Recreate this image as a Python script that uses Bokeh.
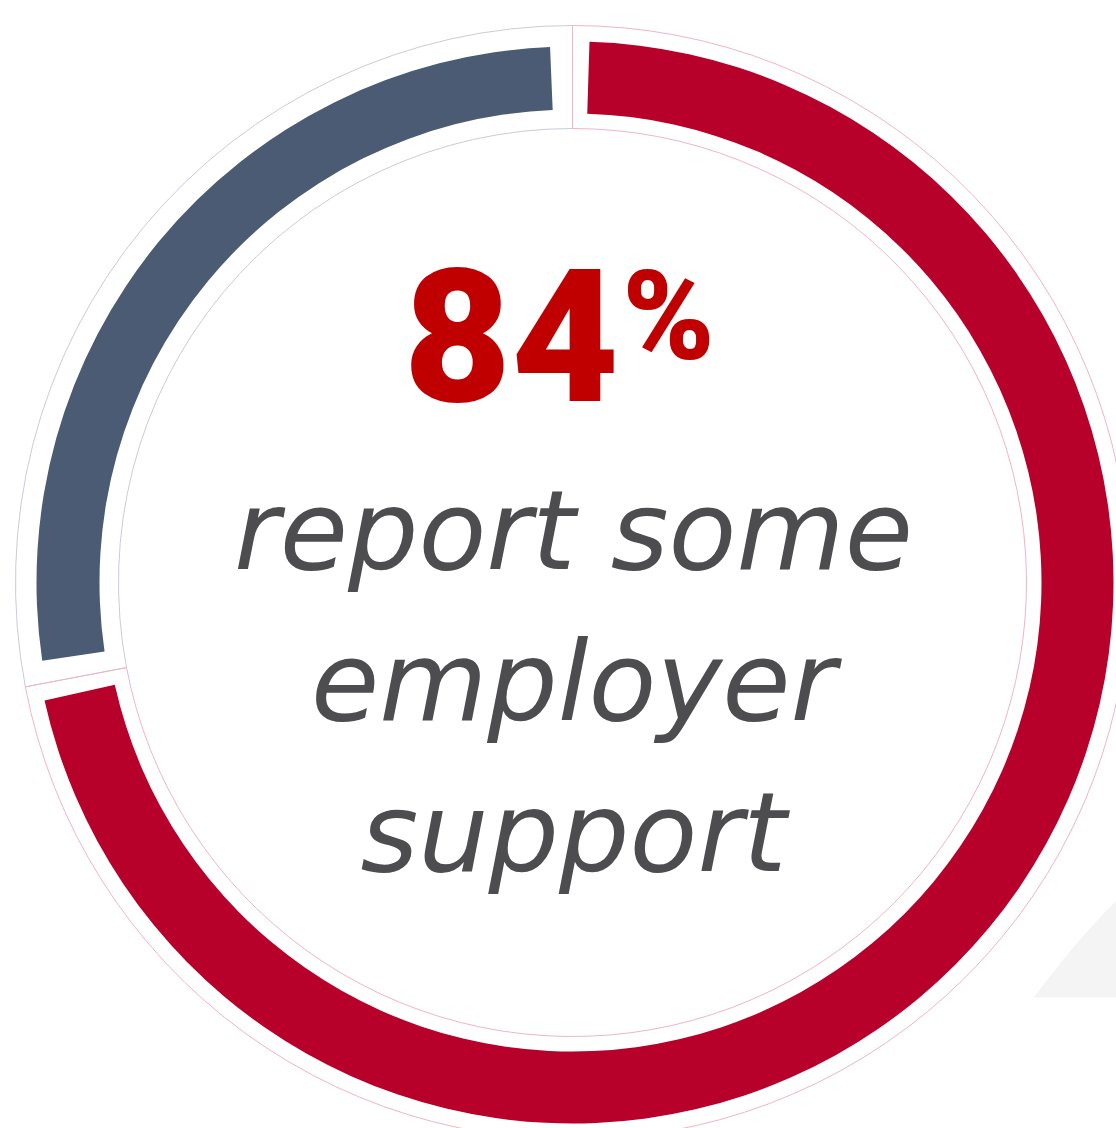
import numpy as np
from bokeh.plotting import figure
from bokeh.models import Range1d, ColumnDataSource
from bokeh.embed import file_html
from bokeh.resources import INLINE
from bokeh.core.properties import value

# ---- data ----
categories = ["report some employer support", "no employer support"]
shares = [72, 28]                     # percent of the ring
headline_value = "84"
headline_unit = "%"
subtitle_lines = ["report some", "employer", "support"]

# ---- styles ----
band_colors = ["#b7002a", "#4b5b73"]
ring_colors = ["#f0b4c4", "#c8ccd6"]
band_inner = [469, 473]
band_outer = [541, 536]
band_pad = [1.8, 2.4]                 # degrees of gap at each end of a band
RING_IN, RING_OUT = 454, 557
W, H = 1116, 1128
CX, CY = 572, H - 582

p = figure(width=W, height=H, x_range=Range1d(0, W), y_range=Range1d(0, H),
           output_backend="svg", toolbar_location=None, min_border=0,
           x_axis_type=None, y_axis_type=None)
p.grid.visible = False
p.outline_line_color = None
p.background_fill_color = "white"
p.border_fill_color = "white"

# decorative light shape bottom-right (drawn first; rings paint over)
p.circle(x=[1732], y=[H - 1507], radius=865, fill_color="#f4f4f4", line_color=None)
p.quad(left=[780], right=[W + 20], bottom=[-20], top=[H - 997], fill_color="white", line_color=None)

# angles (clockwise from 12 o'clock)
cum = np.cumsum([0] + shares)
starts = [90 - cum[i] * 3.6 for i in range(len(shares))]
ends = [90 - cum[i + 1] * 3.6 for i in range(len(shares))]

data = dict(
    cat=categories, start=starts, end=ends,
    bstart=[s - pd for s, pd in zip(starts, band_pad)],
    bend=[e + pd for e, pd in zip(ends, band_pad)],
    band_color=band_colors, ring_color=ring_colors,
    rin=band_inner, rout=band_outer,
)

order = list(range(len(shares)))[::-1]   # blue first, red on top
for i in order:
    s = ColumnDataSource({k: [v[i]] for k, v in data.items()})
    p.annular_wedge(x=CX, y=CY, inner_radius=RING_IN, outer_radius=RING_OUT,
                    start_angle="start", end_angle="end", start_angle_units="deg",
                    end_angle_units="deg", direction="clock", fill_color=None,
                    line_color="ring_color", line_width=1, source=s)
for i in order:
    s = ColumnDataSource({k: [v[i]] for k, v in data.items()})
    p.annular_wedge(x=CX, y=CY, inner_radius="rin", outer_radius="rout",
                    start_angle="bstart", end_angle="bend", start_angle_units="deg",
                    end_angle_units="deg", direction="clock", fill_color="band_color",
                    line_color=None, source=s)

# headline
p.text(x=[403], y=[H - 402 + 68], text=[headline_value], text_font=value("Roboto Black"),
       text_font_size="186px", text_color="#c00000",
       text_align="left", text_baseline="alphabetic")
p.text(x=[622], y=[H - 358 + 42], text=[headline_unit], text_font=value("Roboto Black"),
       text_font_size="124px", text_color="#c00000",
       text_align="left", text_baseline="alphabetic")

# subtitle
fs = 111
base0, step = H - 568 + 0.34 * fs, 151
p.text(x=[573] * len(subtitle_lines), y=[base0 - i * step for i in range(len(subtitle_lines))],
       text=subtitle_lines, text_font=value("DejaVu Sans"), text_font_style="italic",
       text_font_size=f"{fs}px", text_color="#4d4d4f", text_align="center",
       text_baseline="alphabetic")

open("out.html", "w").write(file_html(p, INLINE))
